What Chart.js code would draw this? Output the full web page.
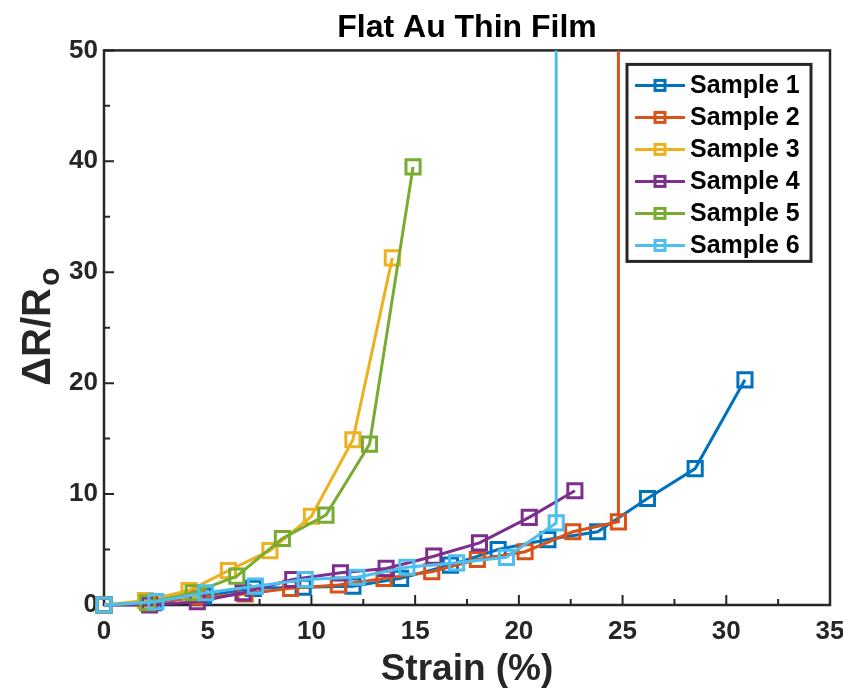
<!DOCTYPE html>
<html>
<head>
<meta charset="utf-8">
<script src="https://cdn.jsdelivr.net/npm/chart.js@4.4.1/dist/chart.umd.min.js"></script>
<style>
  html, body { margin: 0; padding: 0; background: #fff; }
  #wrap { width: 843px; height: 694px; position: relative; }
</style>
</head>
<body>
<div id="wrap"><canvas id="strain-chart"></canvas></div>
<script>
// Strain (%) vs. normalised resistance change for each film sample
const s1Strain = [0, 2.4, 4.8, 7.2, 9.6, 12.0, 14.3, 16.7, 19.0, 21.4, 23.8, 26.2, 28.5, 30.9];
const s1Resist = [0, 0.2, 0.8, 1.5, 1.6, 1.7, 2.4, 3.6, 5.0, 5.9, 6.6, 9.6, 12.3, 20.3];

// last point is the open-circuit failure (off the top of the axis)
const s2Strain = [0, 2.2, 4.5, 6.8, 9.0, 11.3, 13.5, 15.8, 18.0, 20.3, 22.6, 24.8, 24.8];
const s2Resist = [0, 0.2, 0.7, 1.0, 1.5, 1.8, 2.4, 3.0, 4.1, 4.8, 6.6, 7.5, 100];

const s3Strain = [0, 2.0, 4.1, 6.0, 8.0, 10.0, 12.0, 13.9];
const s3Resist = [0, 0.4, 1.3, 3.1, 4.9, 8.0, 14.9, 31.3];

const s4Strain = [0, 2.2, 4.5, 6.7, 9.1, 11.4, 13.6, 15.9, 18.1, 20.5, 22.7];
const s4Resist = [0, 0.0, 0.3, 1.1, 2.3, 2.9, 3.3, 4.4, 5.6, 7.9, 10.3];

const s5Strain = [0, 2.1, 4.3, 6.4, 8.6, 10.7, 12.8, 14.9];
const s5Resist = [0, 0.2, 1.1, 2.6, 6.0, 8.1, 14.5, 39.5];

const s6Strain = [0, 2.5, 4.9, 7.3, 9.7, 12.2, 14.6, 17.0, 19.4, 21.8, 21.8];
const s6Resist = [0, 0.3, 1.1, 1.7, 2.3, 2.5, 3.4, 3.8, 4.3, 7.4, 100];

const sampleNames = ['Sample 1', 'Sample 2', 'Sample 3', 'Sample 4', 'Sample 5', 'Sample 6'];
const sampleColors = ['#0072BD', '#D95319', '#EDB120', '#7E2F8E', '#77AC30', '#4DBEEE'];

const xRange = [0, 35];
const yRange = [0, 50];

const strains = [s1Strain, s2Strain, s3Strain, s4Strain, s5Strain, s6Strain];
const resists = [s1Resist, s2Resist, s3Resist, s4Resist, s5Resist, s6Resist];

const AXIS = '#262626';
const FONT = '"Liberation Sans", Arial, Helvetica, sans-serif';

const datasets = sampleNames.map((name, i) => ({
  label: name,
  data: strains[i].map((x, j) => ({ x, y: resists[i][j] })),
  borderColor: sampleColors[i],
  backgroundColor: 'rgba(0,0,0,0)',
  borderWidth: 3,
  pointStyle: 'rect',
  pointRadius: c => (c.raw && c.raw.y > yRange[1] ? 0 : 10),
  pointBorderWidth: 3,
  pointBorderColor: sampleColors[i],
  pointBackgroundColor: 'rgba(0,0,0,0)',
  // markers at the origin stay whole; off-scale lines stop at the top edge
  clip: { left: 12, right: 12, bottom: 12, top: 0 },
  order: sampleNames.length - i
}));

// box around the axes plus inward tick marks (drawn under the data)
const axesFrame = {
  id: 'axesFrame',
  beforeDatasetsDraw(chart) {
    const { ctx, chartArea: a, scales: { x, y } } = chart;
    ctx.save();
    ctx.strokeStyle = AXIS;
    ctx.lineWidth = 2;
    ctx.beginPath();
    for (let v = xRange[0]; v <= xRange[1]; v += 2.5) {
      const px = x.getPixelForValue(v);
      const len = v % 5 === 0 ? 10 : 6;
      ctx.moveTo(px, a.bottom);
      ctx.lineTo(px, a.bottom - len);
    }
    for (let v = yRange[0]; v <= yRange[1]; v += 5) {
      const py = y.getPixelForValue(v);
      const len = v % 10 === 0 ? 10 : 6;
      ctx.moveTo(a.left, py);
      ctx.lineTo(a.left + len, py);
    }
    ctx.stroke();
    ctx.lineWidth = 2.5;
    ctx.strokeRect(a.left, a.top, a.right - a.left, a.bottom - a.top);
    ctx.restore();
  }
};

// boxed legend in the upper right corner of the plot
const boxLegend = {
  id: 'boxLegend',
  afterDraw(chart) {
    const { ctx, chartArea: a } = chart;
    const left = a.right - 203, top = a.top + 14, w = 184, h = 197;
    ctx.save();
    ctx.fillStyle = '#fff';
    ctx.fillRect(left, top, w, h);
    ctx.strokeStyle = AXIS;
    ctx.lineWidth = 3;
    ctx.strokeRect(left, top, w, h);
    ctx.font = 'bold 25px ' + FONT;
    ctx.textBaseline = 'middle';
    sampleNames.forEach((name, i) => {
      const cy = top + 21 + i * 32;
      ctx.strokeStyle = sampleColors[i];
      ctx.lineWidth = 3;
      ctx.beginPath();
      ctx.moveTo(left + 8, cy);
      ctx.lineTo(left + 58, cy);
      ctx.stroke();
      ctx.strokeRect(left + 28, cy - 5, 10, 10);
      ctx.fillStyle = '#000';
      ctx.fillText(name, left + 63, cy + 1);
    });
    ctx.restore();
  }
};

// rotated y-axis title with subscript o
const yTitle = {
  id: 'yTitle',
  afterDraw(chart) {
    const { ctx, chartArea: a } = chart;
    const main = '\u0394R/R', sub = 'o';
    ctx.save();
    ctx.fillStyle = AXIS;
    ctx.font = 'bold 40px ' + FONT;
    const wMain = ctx.measureText(main).width;
    ctx.font = 'bold 30px ' + FONT;
    const wSub = ctx.measureText(sub).width;
    ctx.translate(50, (a.top + a.bottom) / 2)
    ctx.rotate(-Math.PI / 2);
    ctx.textBaseline = 'alphabetic';
    const x0 = -(wMain + wSub) / 2;
    ctx.font = 'bold 40px ' + FONT;
    ctx.fillText(main, x0, 0);
    ctx.font = 'bold 30px ' + FONT;
    ctx.fillText(sub, x0 + wMain + 2, 9);
    ctx.restore();
  }
};

new Chart(document.getElementById('strain-chart'), {
  type: 'line',
  data: { datasets },
  options: {
    responsive: true,
    maintainAspectRatio: false,
    animation: false,
    layout: { padding: { left: 0, right: 13, top: 0, bottom: 0 } },
    plugins: {
      legend: { display: false },
      tooltip: { enabled: false },
      title: {
        display: true,
        fullSize: false,
        text: 'Flat Au Thin Film',
        color: '#000',
        font: { family: FONT, size: 32, weight: 'bold' },
        padding: { top: 9, bottom: 3 }
      }
    },
    scales: {
      x: {
        type: 'linear',
        min: xRange[0],
        max: xRange[1],
        grid: { display: false, drawTicks: false },
        border: { display: false },
        ticks: {
          stepSize: 5,
          autoSkip: false,
          maxRotation: 0,
          padding: 11,
          color: AXIS,
          font: { family: FONT, size: 26, weight: 'bold' }
        },
        title: {
          display: true,
          text: 'Strain (%)',
          color: AXIS,
          font: { family: FONT, size: 37, weight: 'bold' },
          padding: { top: 0, bottom: 2 }
        },
        afterFit(scale) {
          scale.height = 89;
          scale.paddingLeft = 0;
          scale.paddingRight = 0;
        }
      },
      y: {
        type: 'linear',
        min: yRange[0],
        max: yRange[1],
        grid: { display: false, drawTicks: false },
        border: { display: false },
        ticks: {
          stepSize: 10,
          autoSkip: false,
          padding: 6,
          color: AXIS,
          font: { family: FONT, size: 26, weight: 'bold' }
        },
        afterFit(scale) {
          scale.width = 104;
          scale.paddingTop = 0;
          scale.paddingBottom = 0;
        }
      }
    }
  },
  plugins: [axesFrame, boxLegend, yTitle]
});
</script>
</body>
</html>
